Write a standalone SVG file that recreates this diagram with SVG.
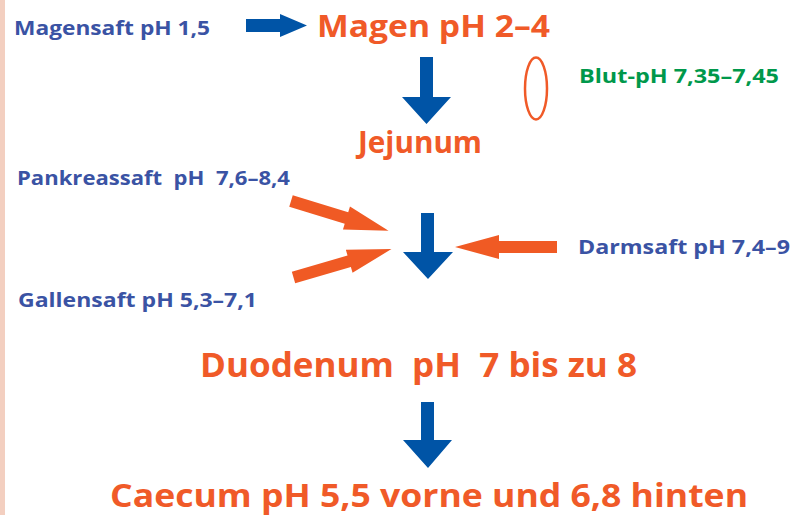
<svg xmlns="http://www.w3.org/2000/svg" xmlns:xlink="http://www.w3.org/1999/xlink" width="800" height="515" viewBox="0 0 800 515">
<style>
text{font-family:"Open Sans","Noto Sans","Liberation Sans",sans-serif;font-weight:700}
.lbl{font-size:19px;fill:#3a53a4}
.grn{font-size:19px;fill:#00984b}
.big{font-size:31px;fill:#f05a28}
.huge{font-size:34px;fill:#f05a28}
.blue{fill:#0054a6}
.org{fill:#f05a24}
</style>
<defs>
<path id="oarrow" d="M0,-6 H58 V-12 L102,0 L58,12 V6 H0 Z"/>
</defs>
<rect x="0" y="0" width="800" height="515" fill="#ffffff"/>
<rect x="0" y="0" width="5" height="515" fill="#f3cfc0"/>
<g id="magensaft"><text class="lbl" x="14" y="35" textLength="196" lengthAdjust="spacingAndGlyphs">Magensaft pH 1,5</text></g>
<g id="magen"><text class="big" x="317" y="37" textLength="233" lengthAdjust="spacingAndGlyphs">Magen pH 2–4</text></g>
<g id="blut"><ellipse cx="536" cy="88.5" rx="11" ry="31" fill="none" stroke="#f05a28" stroke-width="2.5"/><text class="grn" x="579" y="83" textLength="200" lengthAdjust="spacingAndGlyphs">Blut-pH 7,35–7,45</text></g>
<g id="jejunum"><text class="big" x="358" y="153" textLength="124" lengthAdjust="spacingAndGlyphs">Jejunum</text></g>
<g id="pankreassaft"><text class="lbl" x="17" y="185" textLength="273" lengthAdjust="spacingAndGlyphs" xml:space="preserve">Pankreassaft  pH  7,6–8,4</text></g>
<g id="gallensaft"><text class="lbl" x="18" y="307" textLength="239" lengthAdjust="spacingAndGlyphs">Gallensaft pH 5,3–7,1</text></g>
<g id="darmsaft"><text class="lbl" x="578" y="254" textLength="212" lengthAdjust="spacingAndGlyphs">Darmsaft pH 7,4–9</text></g>
<g id="duodenum"><text class="huge" x="200" y="377" textLength="437" lengthAdjust="spacingAndGlyphs" xml:space="preserve">Duodenum  pH  7 bis zu 8</text></g>
<g id="caecum"><text class="huge" style="font-size:32px" x="110" y="507" textLength="638" lengthAdjust="spacingAndGlyphs">Caecum pH 5,5 vorne und 6,8 hinten</text></g>
<g id="connectors">
<polygon class="blue" points="246,19 280,19 280,14 307,25.5 280,37 280,32 246,32"/>
<polygon class="blue" points="420,57 433,57 433,97 451,97 426.5,124 402,97 420,97"/>
<polygon class="blue" points="421,213 434,213 434,252 453,252 428,279 403,252 421,252"/>
<polygon class="blue" points="421,402 434,402 434,440 452,440 428,468 403,440 421,440"/>
<use xlink:href="#oarrow" class="org" transform="translate(291,201) rotate(17)"/>
<use xlink:href="#oarrow" class="org" transform="translate(293.5,277.5) rotate(-16.2)"/>
<use xlink:href="#oarrow" class="org" transform="translate(557,247) rotate(180)"/>
</g>
</svg>
